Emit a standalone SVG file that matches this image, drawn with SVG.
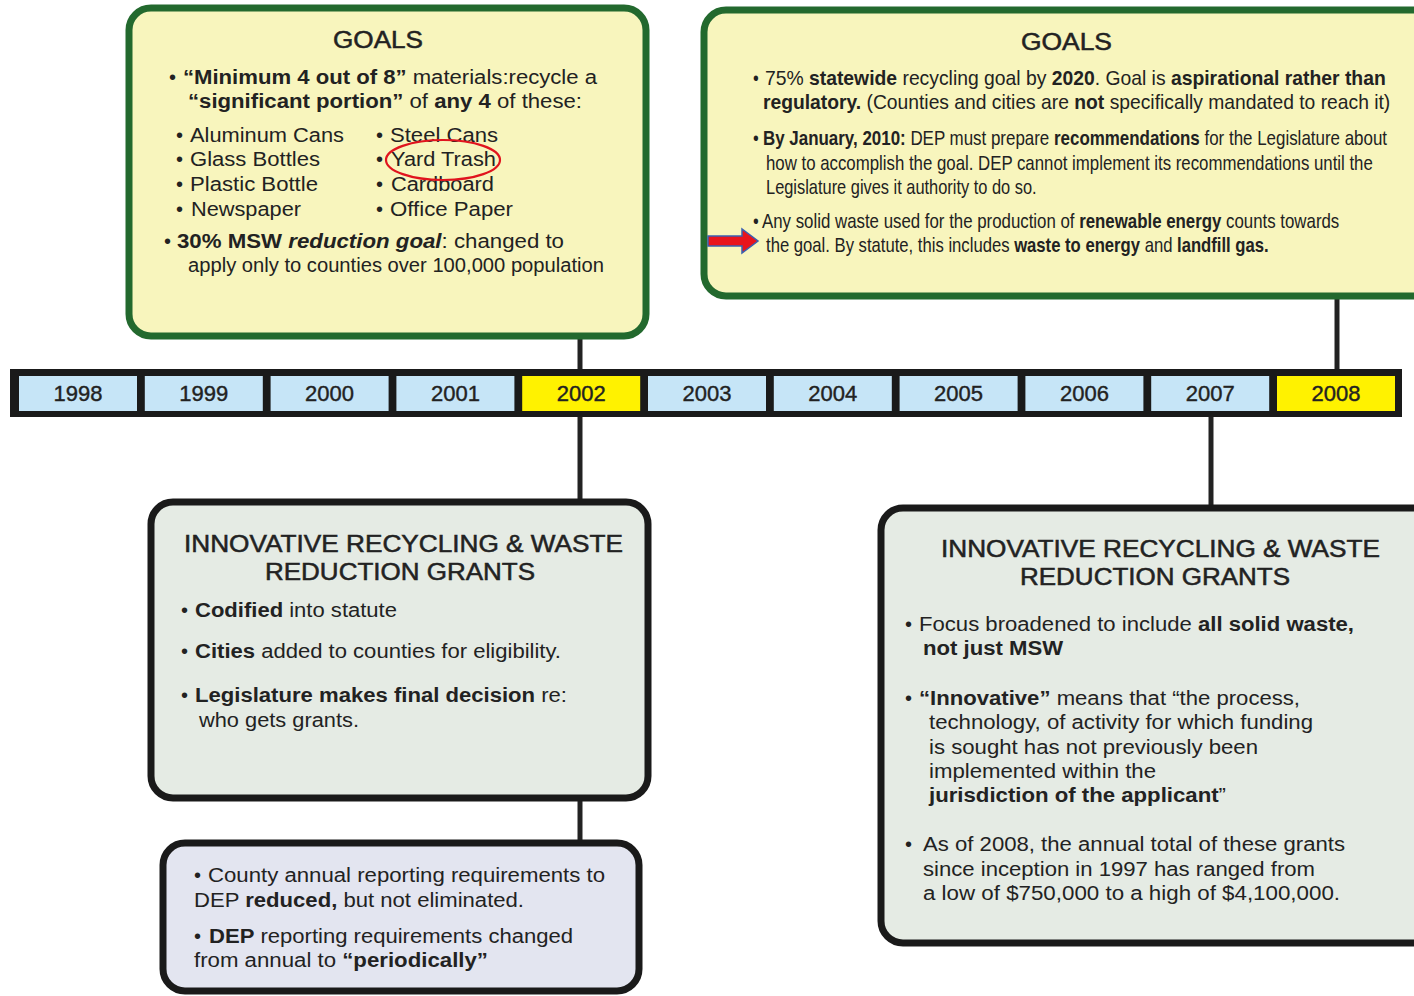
<svg xmlns="http://www.w3.org/2000/svg" width="1414" height="996" viewBox="0 0 1414 996">
<style>
text{font-family:"Liberation Sans",Arial,sans-serif;fill:#222;}
.b{font-weight:bold;}
.i{font-style:italic;}
.goal{fill:#f8f5bd;stroke:#23692e;stroke-width:7;}
.grant{fill:#e5ebe4;stroke:#1a1a1a;stroke-width:7;}
.rep{fill:#e3e5f0;stroke:#1a1a1a;stroke-width:7;}
.cell{fill:#c6e5f7;}
.hl{fill:#fff200;}
.yr{font-size:22px;text-anchor:middle;stroke:#222;stroke-width:0.4;}
.h{font-size:23px;stroke:#222;stroke-width:0.5;}
.t{font-size:20px;}
.conn{stroke:#222;stroke-width:5;fill:none;}
</style>
<g id="connectors">
<line class="conn" x1="580" y1="338" x2="580" y2="370"/>
<line class="conn" x1="580" y1="416" x2="580" y2="500"/>
<line class="conn" x1="580" y1="799" x2="580" y2="841"/>
<line class="conn" x1="1337" y1="298" x2="1337" y2="370"/>
<line class="conn" x1="1211" y1="416" x2="1211" y2="506"/>
</g>
<g id="timeline">
<rect x="10" y="369" width="1392" height="48" fill="#1a1a1a"/>
<rect class="cell" x="19" y="376" width="118" height="35"/>
<rect class="cell" x="144.8" y="376" width="118" height="35"/>
<rect class="cell" x="270.6" y="376" width="118" height="35"/>
<rect class="cell" x="396.4" y="376" width="118" height="35"/>
<rect class="hl" x="522.2" y="376" width="118" height="35"/>
<rect class="cell" x="648" y="376" width="118" height="35"/>
<rect class="cell" x="773.8" y="376" width="118" height="35"/>
<rect class="cell" x="899.6" y="376" width="118" height="35"/>
<rect class="cell" x="1025.4" y="376" width="118" height="35"/>
<rect class="cell" x="1151.2" y="376" width="118" height="35"/>
<rect class="hl" x="1277" y="376" width="118" height="35"/>
<text class="yr" x="78" y="401">1998</text>
<text class="yr" x="203.8" y="401">1999</text>
<text class="yr" x="329.6" y="401">2000</text>
<text class="yr" x="455.4" y="401">2001</text>
<text class="yr" x="581.2" y="401">2002</text>
<text class="yr" x="707" y="401">2003</text>
<text class="yr" x="832.8" y="401">2004</text>
<text class="yr" x="958.6" y="401">2005</text>
<text class="yr" x="1084.4" y="401">2006</text>
<text class="yr" x="1210.2" y="401">2007</text>
<text class="yr" x="1336" y="401">2008</text>
</g>
<g id="goals-2002">
<rect class="goal" x="129" y="8" width="517" height="328" rx="22"/>
<text class="h" x="333" y="48" textLength="90" lengthAdjust="spacingAndGlyphs">GOALS</text>
<text class="t" x="169" y="84">•</text>
<text class="t" x="183" y="84" textLength="414" lengthAdjust="spacingAndGlyphs"><tspan class="b">“Minimum 4 out of 8”</tspan> materials:recycle a</text>
<text class="t" x="188" y="108" textLength="394" lengthAdjust="spacingAndGlyphs"><tspan class="b">“significant portion”</tspan> of <tspan class="b">any 4</tspan> of these:</text>
<text class="t" x="176" y="142">•</text>
<text class="t" x="176" y="166">•</text>
<text class="t" x="176" y="191">•</text>
<text class="t" x="176" y="216">•</text>
<text class="t" x="376" y="142">•</text>
<text class="t" x="376" y="166">•</text>
<text class="t" x="376" y="191">•</text>
<text class="t" x="376" y="216">•</text>
<text class="t" x="190" y="142" textLength="154" lengthAdjust="spacingAndGlyphs">Aluminum Cans</text>
<text class="t" x="190" y="166" textLength="130" lengthAdjust="spacingAndGlyphs">Glass Bottles</text>
<text class="t" x="190" y="191" textLength="128" lengthAdjust="spacingAndGlyphs">Plastic Bottle</text>
<text class="t" x="191" y="216" textLength="110" lengthAdjust="spacingAndGlyphs">Newspaper</text>
<text class="t" x="390" y="142" textLength="108" lengthAdjust="spacingAndGlyphs">Steel Cans</text>
<text class="t" x="391" y="166" textLength="105" lengthAdjust="spacingAndGlyphs">Yard Trash</text>
<text class="t" x="391" y="191" textLength="103" lengthAdjust="spacingAndGlyphs">Cardboard</text>
<text class="t" x="390" y="216" textLength="123" lengthAdjust="spacingAndGlyphs">Office Paper</text>
<ellipse cx="443" cy="160" rx="57" ry="20" fill="none" stroke="#e0141e" stroke-width="2.2"/>
<text class="t" x="164" y="248">•</text>
<text class="t" x="177" y="248" textLength="387" lengthAdjust="spacingAndGlyphs"><tspan class="b">30% MSW <tspan class="i">reduction goal</tspan></tspan>: changed to</text>
<text class="t" x="188" y="272" textLength="416" lengthAdjust="spacingAndGlyphs">apply only to counties over 100,000 population</text>
</g>
<g id="goals-2008">
<rect class="goal" x="704" y="10" width="760" height="286" rx="22"/>
<text class="h" x="1021" y="50" textLength="91" lengthAdjust="spacingAndGlyphs">GOALS</text>
<g transform="translate(763,0) scale(0.82,1)">
<text class="t" x="-12.2" y="85">•</text>
<text class="t" x="2.4" y="85" textLength="757" lengthAdjust="spacingAndGlyphs">75% <tspan class="b">statewide</tspan> recycling goal by <tspan class="b">2020</tspan>. Goal is <tspan class="b">aspirational rather than</tspan></text>
<text class="t" x="0" y="109" textLength="765" lengthAdjust="spacingAndGlyphs"><tspan class="b">regulatory.</tspan> (Counties and cities are <tspan class="b">not</tspan> specifically mandated to reach it)</text>
<text class="t" x="-12.2" y="145">•</text>
<text class="t" x="0" y="145" textLength="761" lengthAdjust="spacingAndGlyphs"><tspan class="b">By January, 2010:</tspan> DEP must prepare <tspan class="b">recommendations</tspan> for the Legislature about</text>
<text class="t" x="3.7" y="170" textLength="740" lengthAdjust="spacingAndGlyphs">how to accomplish the goal. DEP cannot implement its recommendations until the</text>
<text class="t" x="3.7" y="194" textLength="330" lengthAdjust="spacingAndGlyphs">Legislature gives it authority to do so.</text>
<text class="t" x="-12.2" y="228">•</text>
<text class="t" x="-1.2" y="228" textLength="704" lengthAdjust="spacingAndGlyphs">Any solid waste used for the production of <tspan class="b">renewable energy</tspan> counts towards</text>
<text class="t" x="3.7" y="252" textLength="613" lengthAdjust="spacingAndGlyphs">the goal. By statute, this includes <tspan class="b">waste to energy</tspan> and <tspan class="b">landfill gas.</tspan></text>
</g>
<polygon points="708,236 742,236 742,229 758,241 742,253 742,246 708,246" fill="#e8141c" stroke="#3a5fb0" stroke-width="1.5"/>
</g>
<g id="grants-2002">
<rect class="grant" x="151" y="502" width="497" height="296" rx="22"/>
<text class="h" x="184" y="552" textLength="439" lengthAdjust="spacingAndGlyphs">INNOVATIVE RECYCLING &amp; WASTE</text>
<text class="h" x="265" y="580" textLength="270" lengthAdjust="spacingAndGlyphs">REDUCTION GRANTS</text>
<text class="t" x="181" y="617">•</text>
<text class="t" x="195" y="617" textLength="202" lengthAdjust="spacingAndGlyphs"><tspan class="b">Codified</tspan> into statute</text>
<text class="t" x="181" y="658">•</text>
<text class="t" x="195" y="658" textLength="366" lengthAdjust="spacingAndGlyphs"><tspan class="b">Cities</tspan> added to counties for eligibility.</text>
<text class="t" x="181" y="702">•</text>
<text class="t" x="195" y="702" textLength="372" lengthAdjust="spacingAndGlyphs"><tspan class="b">Legislature makes final decision</tspan> re:</text>
<text class="t" x="199" y="727" textLength="160" lengthAdjust="spacingAndGlyphs">who gets grants.</text>
</g>
<g id="reporting-2002">
<rect class="rep" x="163" y="843" width="476" height="148" rx="22"/>
<text class="t" x="194" y="882">•</text>
<text class="t" x="208" y="882" textLength="397" lengthAdjust="spacingAndGlyphs">County annual reporting requirements to</text>
<text class="t" x="194" y="907" textLength="330" lengthAdjust="spacingAndGlyphs">DEP <tspan class="b">reduced,</tspan> but not eliminated.</text>
<text class="t" x="194" y="943">•</text>
<text class="t" x="209" y="943" textLength="364" lengthAdjust="spacingAndGlyphs"><tspan class="b">DEP</tspan> reporting requirements changed</text>
<text class="t" x="194" y="967" textLength="294" lengthAdjust="spacingAndGlyphs">from annual to <tspan class="b">“periodically”</tspan></text>
</g>
<g id="grants-2008">
<rect class="grant" x="881" y="508" width="580" height="435" rx="22"/>
<text class="h" x="941" y="557" textLength="439" lengthAdjust="spacingAndGlyphs">INNOVATIVE RECYCLING &amp; WASTE</text>
<text class="h" x="1020" y="585" textLength="270" lengthAdjust="spacingAndGlyphs">REDUCTION GRANTS</text>
<text class="t" x="905" y="631">•</text>
<text class="t" x="919" y="631" textLength="435" lengthAdjust="spacingAndGlyphs">Focus broadened to include <tspan class="b">all solid waste,</tspan></text>
<text class="t b" x="923" y="655" textLength="140" lengthAdjust="spacingAndGlyphs">not just MSW</text>
<text class="t" x="905" y="705">•</text>
<text class="t" x="919" y="705" textLength="381" lengthAdjust="spacingAndGlyphs"><tspan class="b">“Innovative”</tspan> means that “the process,</text>
<text class="t" x="929" y="729" textLength="384" lengthAdjust="spacingAndGlyphs">technology, of activity for which funding</text>
<text class="t" x="929" y="754" textLength="329" lengthAdjust="spacingAndGlyphs">is sought has not previously been</text>
<text class="t" x="929" y="778" textLength="227" lengthAdjust="spacingAndGlyphs">implemented within the</text>
<text class="t" x="929" y="802" textLength="297" lengthAdjust="spacingAndGlyphs"><tspan class="b">jurisdiction of the applicant</tspan>”</text>
<text class="t" x="905" y="851">•</text>
<text class="t" x="923" y="851" textLength="422" lengthAdjust="spacingAndGlyphs">As of 2008, the annual total of these grants</text>
<text class="t" x="923" y="876" textLength="392" lengthAdjust="spacingAndGlyphs">since inception in 1997 has ranged from</text>
<text class="t" x="923" y="900" textLength="417" lengthAdjust="spacingAndGlyphs">a low of $750,000 to a high of  $4,100,000.</text>
</g>
</svg>
